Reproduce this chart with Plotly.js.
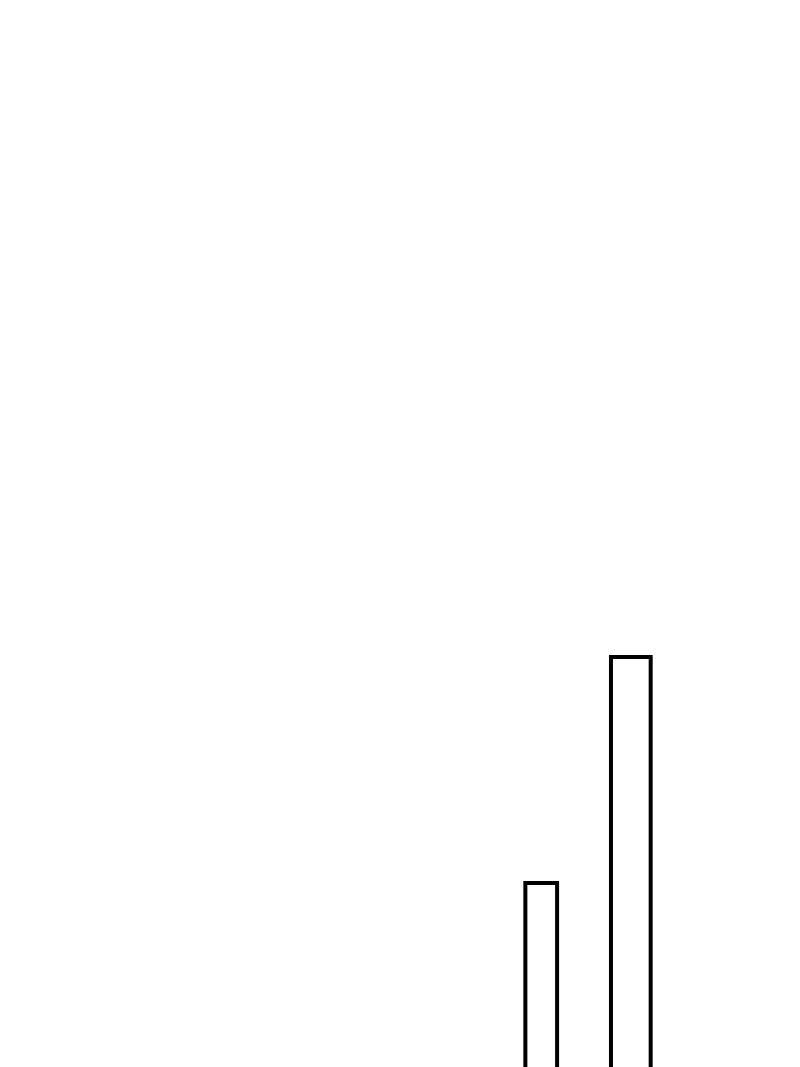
<!DOCTYPE html>
<html>
<head>
<meta charset="utf-8">
<script src="https://cdn.plot.ly/plotly-3.0.1.min.js"></script>
<style>
html,body{margin:0;padding:0;background:#ffffff;}
#chart{width:800px;height:1067px;}
</style>
</head>
<body>
<div id="chart"></div>
<script>
// Data (only two bars are visible, cropped at the bottom)
var categories = ["A", "B"];
var values = [284, 510];
var barWidths = [0.354, 0.443];

var trace = {
  type: "bar",
  x: categories,
  y: values,
  width: barWidths,
  marker: {
    color: "#ffffff",
    line: { color: "#000000", width: 4 }
  },
  hoverinfo: "skip"
};

var layout = {
  width: 800,
  height: 1067,
  margin: { l: 0, r: 0, t: 0, b: 0, pad: 0 },
  paper_bgcolor: "#ffffff",
  plot_bgcolor: "#ffffff",
  showlegend: false,
  xaxis: {
    type: "category",
    range: [-6.04, 2.888],
    visible: false,
    showgrid: false,
    zeroline: false,
    fixedrange: true
  },
  yaxis: {
    range: [100, 1167],
    visible: false,
    showgrid: false,
    zeroline: false,
    fixedrange: true
  }
};

Plotly.newPlot("chart", [trace], layout, { staticPlot: true, displayModeBar: false });
</script>
</body>
</html>
